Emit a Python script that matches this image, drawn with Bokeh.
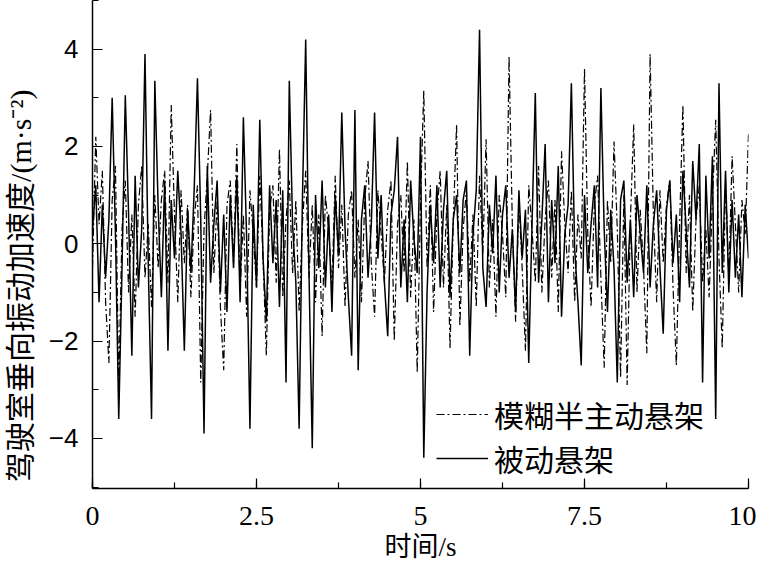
from bokeh.plotting import figure
from bokeh.models import Range1d, SingleIntervalTicker, Legend, LegendItem, ColumnDataSource
from bokeh.embed import file_html
from bokeh.resources import INLINE

# time step 0.05 s, 0..10 s
dt = 0.05
passive = [
    0.3, 1.2, -1.2, 0.8, -0.7, 0.5, 3.0, 0.2, -3.6, -0.5,
    3.05, 0.6, -2.3, 1.4, -0.9, 0.3, 3.9, -0.4, -3.6, 3.35,
    0.8, -1.1, 1.3, -2.2, 0.9, -0.3, 1.5, 0.2, -2.2, 0.7,
    -0.6, 1.1, 3.4, 0.5, -3.9, 1.6, -0.8, 0.4, 1.3, -1.0,
    0.6, -1.4, 1.0, -0.5, 1.4, -1.2, 2.6, 0.1, -3.8, 0.8,
    -0.9, 2.55, -0.3, -1.6, 1.2, -0.4, 0.9, -1.3, 1.1, -2.85,
    3.35, 0.4, -0.8, -3.8, 0.9, 4.2, -0.6, -4.2, 1.0, -0.5,
    1.3, -0.9, 0.6, -1.4, 1.0, -0.2, 2.7, 0.3, -1.1, -2.3,
    2.75, -2.6, 0.5, 1.2, -0.7, 0.4, 2.7, -0.3, 1.0, -0.8,
    -1.9, 0.6, 1.1, 2.2, -0.9, 0.5, -1.2, 1.3, 0.1, -0.6,
    2.2, -4.4, -1.0, 0.8, -0.4, 1.2, -0.9, 0.7, 1.5, -1.1,
    0.5, 1.0, -0.6, 0.9, 1.3, -2.3, 0.2, 1.1, 4.4, -0.5,
    -1.3, 0.8, -0.2, 1.4, -1.0, 0.6, 1.2, -0.7, 0.3, -1.4,
    1.1, -0.3, 0.7, -2.45, 0.4, 3.1, -0.8, 0.5, 2.05, -1.2,
    0.9, -0.4, 1.6, -1.5, 0.2, 0.8, 3.3, -0.1, -1.2, -2.5,
    1.0, -0.6, 0.4, 1.2, -0.9, 3.2, 0.3, -1.4, 0.7, -0.5,
    -2.85, 0.9, 1.3, -0.8, 0.5, -1.1, 1.0, 0.2, -0.6, 1.2,
    -0.9, 0.4, 1.1, -0.5, -1.85, 0.7, 1.3, -0.4, 0.6, -1.2,
    1.5, 0.3, -0.9, 1.7, 0.5, 2.05, -2.85, 1.4, -0.3, 1.8,
    -3.6, 3.3, -0.6, 1.5, -1.0, 0.9, -0.7, 0.6, -1.1, 0.8, -0.3,
]
fuzzy = [
    -0.5, 2.2, 0.4, 1.5, -1.2, -2.45, 0.9, 1.6, -2.95, 0.3,
    1.3, -1.0, 0.6, -1.5, 0.8, 1.6, -0.7, 0.4, -1.3, 1.0,
    -0.5, 0.9, 1.5, -0.8, 2.85, 0.6, -1.2, 1.1, -0.4, 0.8,
    -1.1, 0.5, 1.2, -2.85, 0.3, 1.4, 2.75, -0.6, 0.9, -1.3,
    -2.6, 0.8, 1.3, -0.4, 2.05, -1.0, 0.6, -1.5, 1.1, 0.2,
    -0.9, 1.4, -0.3, -2.3, 0.7, 1.2, -0.8, 1.95, -1.1, 0.5,
    1.3, -0.6, 0.9, -1.4, 0.4, 1.5, -0.7, 0.8, -1.2, 0.6,
    -1.9, 1.0, 0.3, -0.9, 1.4, -0.5, 0.8, -1.3, 0.6, 1.1,
    -0.7, 0.5, -1.2, 0.9, 1.7, -0.4, -1.5, 1.1, 0.2, -0.8,
    0.7, 1.3, -2.0, 0.4, 1.0, -0.6, 1.7, -1.1, 0.5, -2.65,
    0.9, 3.15, -0.5, 1.2, -1.4, 0.6, 1.5, -0.9, 0.8, -2.15,
    0.5, 2.45, -1.7, 0.3, 1.1, -0.8, 0.6, -1.3, 1.4, -0.2,
    2.15, -0.9, 0.5, -1.5, 1.0, 0.2, -1.1, 3.85, 0.4, -1.6,
    0.9, -0.5, -2.2, 1.2, 0.3, -0.8, 1.6, -1.0, 0.5, 1.3,
    -0.7, 0.9, -1.4, 1.9, 0.4, -0.6, 1.1, -1.2, 0.6, -0.3,
    3.6, 0.2, -1.3, 0.8, 1.4, -0.7, -2.55, 0.9, -0.4, 2.1,
    0.3, -2.75, 1.0, -2.9, 0.5, 2.45, -1.0, 0.7, -0.5, -2.25,
    3.9, 0.6, -1.2, 1.1, -0.4, 0.8, 1.3, -0.9, -2.5, 0.4,
    2.85, -0.6, 1.0, -1.4, 0.5, 1.2, -0.8, 0.3, -1.1, 0.9,
    2.55, -0.3, -2.15, 1.3, -0.7, 1.8, 0.4, -1.0, 0.9, 0.2, 2.25,
]
time = [round(i * dt, 2) for i in range(len(passive))]

series_names = ["模糊半主动悬架", "被动悬架"]
x_tick_labels = {0: "0", 2.5: "2.5", 5: "5", 7.5: "7.5", 10: "10"}
x_title = "时间/s"
y_title = "驾驶室垂向振动加速度/(m·s⁻²)\u3000\u3000\u00a0\u00a0\u00a0"

src = ColumnDataSource(dict(t=time, fz=fuzzy, ps=passive))

p = figure(width=756, height=567, output_backend="svg", toolbar_location=None,
           x_range=Range1d(0, 10), y_range=Range1d(-5.03, 5.0))
p.min_border_left = 91
p.min_border_right = 8
p.min_border_top = 0
p.min_border_bottom = 79
p.outline_line_color = None
p.grid.visible = False
p.background_fill_color = "white"
p.border_fill_color = "white"

r1 = p.line("t", "fz", source=src, line_color="black", line_width=1.2, line_dash="8 3 2 3")
r2 = p.line("t", "ps", source=src, line_color="black", line_width=1.5)

xa = p.xaxis[0]
xa.ticker = SingleIntervalTicker(interval=2.5, num_minor_ticks=2)
xa.major_label_overrides = x_tick_labels
ya = p.yaxis[0]
ya.ticker = SingleIntervalTicker(interval=2, num_minor_ticks=2)

for ax in (xa, ya):
    ax.axis_line_color = "black"
    ax.axis_line_width = 1.5
    ax.major_tick_in = 10
    ax.major_tick_out = 0
    ax.minor_tick_in = 6
    ax.minor_tick_out = 0
    ax.major_tick_line_width = 1.2
    ax.minor_tick_line_width = 1.2
    ax.major_label_text_color = "black"
    ax.axis_label_text_color = "black"
    ax.axis_label_text_font_style = "normal"

xa.major_label_text_font = "Liberation Serif"
xa.major_label_text_font_size = "28px"
xa.major_label_standoff = 18
xa.axis_label = x_title
xa.axis_label_text_font = "Liberation Serif, Noto Sans CJK SC"
xa.axis_label_text_font_size = "27px"
xa.axis_label_standoff = 4

ya.major_label_text_font = "Liberation Sans"
ya.major_label_text_font_size = "26px"
ya.major_label_standoff = 14
ya.axis_label = y_title
ya.axis_label_text_font = "Liberation Serif, Noto Sans CJK SC"
ya.axis_label_text_font_size = "30px"
ya.axis_label_standoff = 9

legend = Legend(items=[LegendItem(label=series_names[0], renderers=[r1]),
                       LegendItem(label=series_names[1], renderers=[r2])],
                location=(344, 8))
legend.background_fill_alpha = 0
legend.border_line_color = None
legend.padding = 0
legend.margin = 0
legend.spacing = 0
legend.glyph_width = 52
legend.glyph_height = 30
legend.label_height = 30
legend.label_standoff = 6
legend.label_text_font = "Noto Sans CJK SC"
legend.label_text_font_size = "30px"
legend.label_text_color = "black"
p.add_layout(legend, "center")

open("out.html", "w").write(file_html(p, INLINE))
